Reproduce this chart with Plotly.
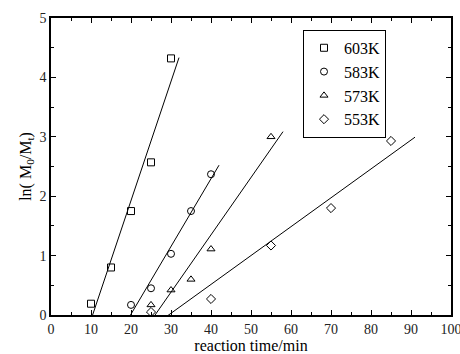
import numpy as np
import plotly.graph_objects as go

time_603 = [10, 15, 20, 25, 30]
lnr_603 = [0.19, 0.80, 1.75, 2.57, 4.32]
time_583 = [20, 25, 30, 35, 40]
lnr_583 = [0.17, 0.45, 1.03, 1.75, 2.37]
time_573 = [25, 30, 35, 40, 55]
lnr_573 = [0.17, 0.42, 0.60, 1.11, 3.00]
time_553 = [25, 40, 55, 70, 85]
lnr_553 = [0.05, 0.27, 1.17, 1.80, 2.93]

series = [
    ("603K", time_603, lnr_603, "square-open"),
    ("583K", time_583, lnr_583, "circle-open"),
    ("573K", time_573, lnr_573, "triangle-up-open"),
    ("553K", time_553, lnr_553, "diamond-open"),
]

FONT = "Liberation Serif"
fig = go.Figure()
for name, xs, ys, sym in series:
    fig.add_trace(go.Scatter(x=xs, y=ys, mode="markers", name=name,
                             marker=dict(symbol=sym, size=7, color="black",
                                         line=dict(color="black", width=1))))
for name, xs, ys, sym in series:
    xa = np.array(xs, float); ya = np.array(ys, float)
    k, b = np.polyfit(xa, ya, 1)
    span = xa.max() - xa.min()
    xl = np.array([xa.min() - 0.1 * span, xa.max() + 0.1 * span])
    fig.add_trace(go.Scatter(x=xl, y=k * xl + b, mode="lines", showlegend=False,
                             line=dict(color="black", width=1)))

axis_common = dict(showline=True, linecolor="black", linewidth=1.5, mirror="ticks",
                   ticks="inside", ticklen=5, tickwidth=1, tickcolor="black",
                   showgrid=False, zeroline=False, automargin=False,
                   ticklabeloverflow="allow",
                   tickfont=dict(family=FONT, size=14, color="#222"))
fig.update_xaxes(range=[0, 100], tick0=0, dtick=10,
                 minor=dict(ticks="inside", ticklen=3, dtick=5, tickcolor="black"),
                 title=dict(text="reaction time/min", font=dict(family=FONT, size=16, color="black"), standoff=0),
                 **axis_common)
fig.update_yaxes(range=[0, 5], tick0=0, dtick=1,
                 minor=dict(ticks="inside", ticklen=3, dtick=0.5, tickcolor="black"),
                 title=dict(text="ln( M<sub>0</sub>/M<sub>t</sub>)", font=dict(family=FONT, size=16, color="black"), standoff=4),
                 **axis_common)
fig.update_layout(
    width=460, height=354,
    margin=dict(l=51, r=9, t=18, b=39),
    plot_bgcolor="white", paper_bgcolor="white",
    font=dict(family=FONT, color="black"),
    legend=dict(x=0.63, y=0.96, xanchor="left", yanchor="top",
                bordercolor="black", borderwidth=1, bgcolor="white",
                font=dict(family=FONT, size=16, color="black"),
                tracegroupgap=0, itemwidth=30),
)
# remove the default page margin so the 460x354 figure fills the window exactly
fig.write_html("out.html", config={"displayModeBar": False},
               post_script="document.body.style.margin='0';document.body.style.overflow='hidden';")
